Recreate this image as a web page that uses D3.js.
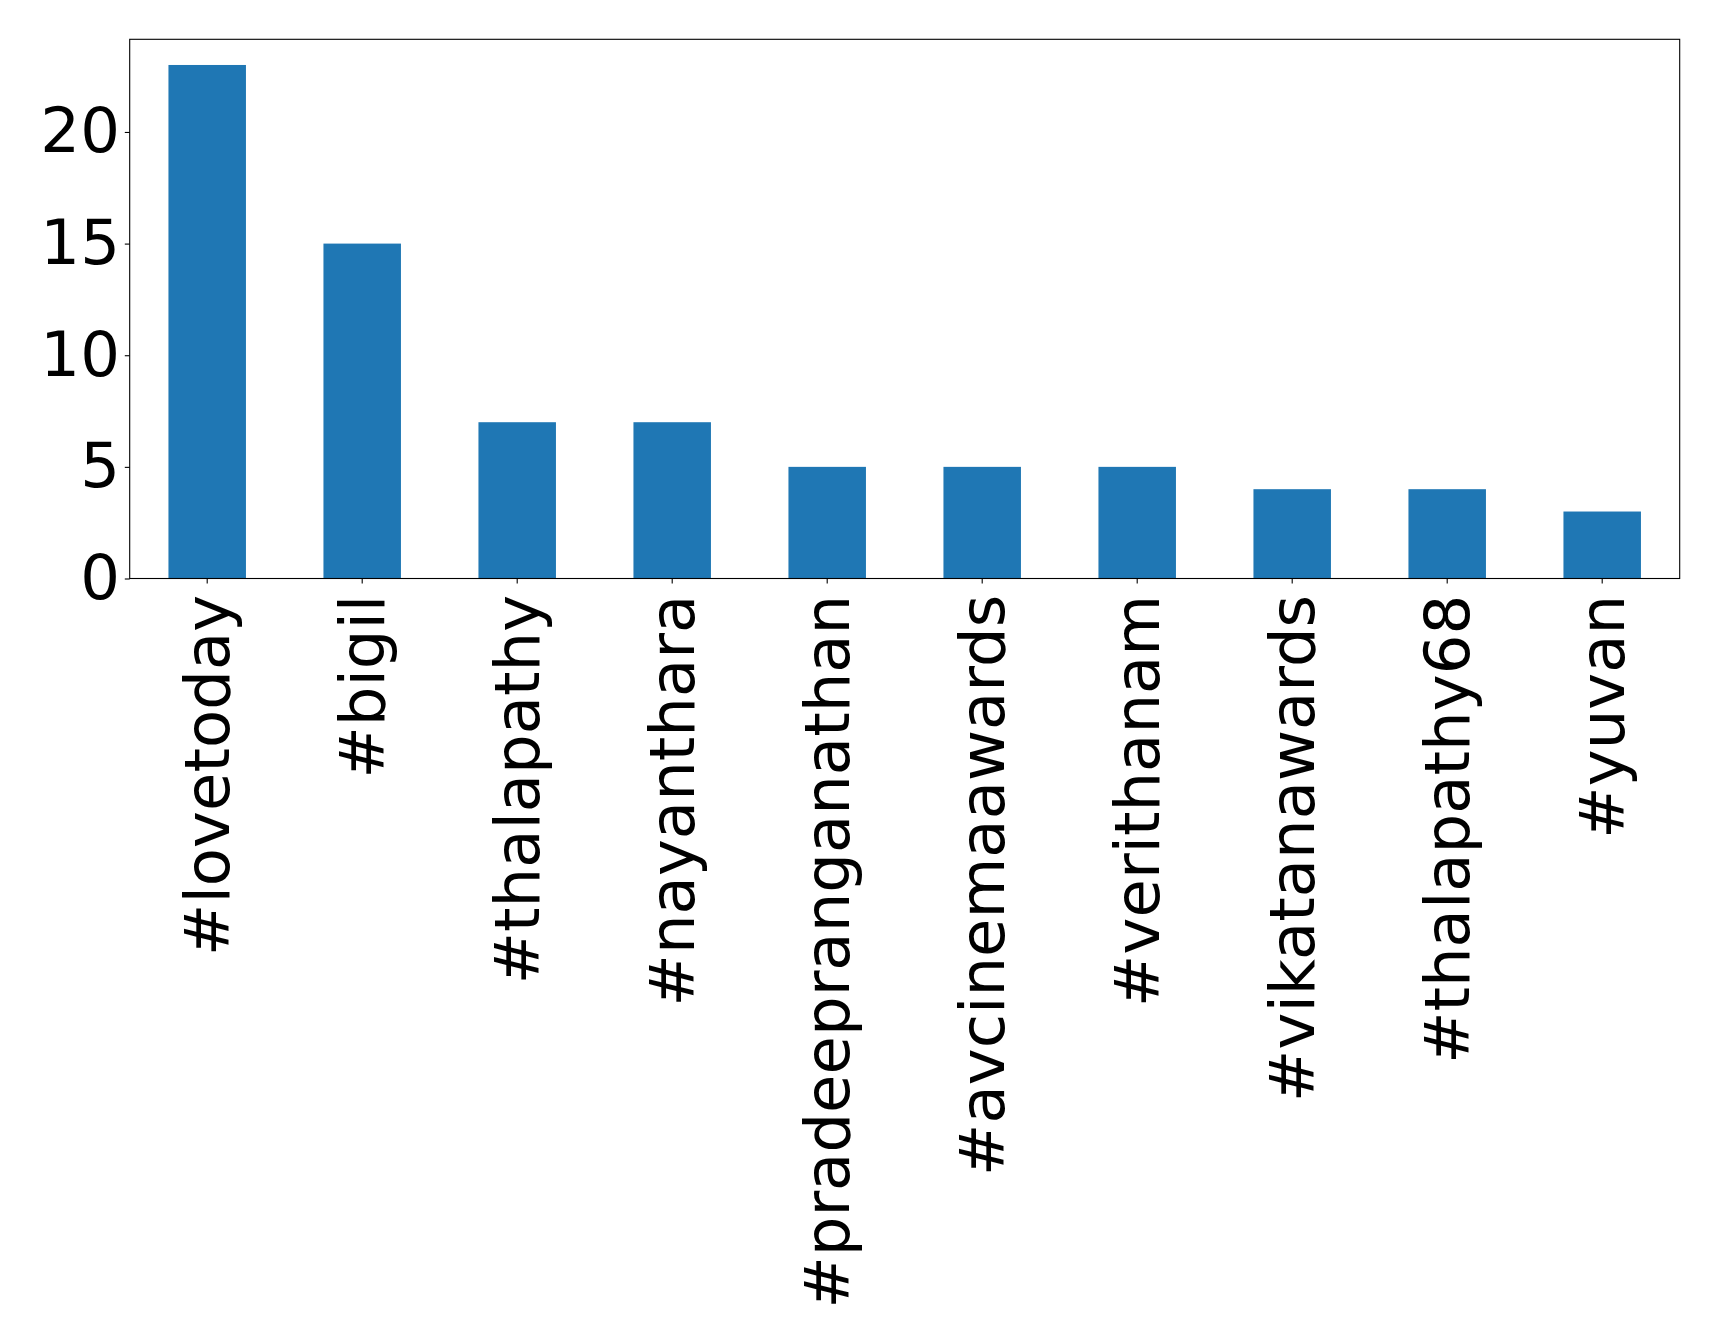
<!DOCTYPE html>
<html><head><meta charset="utf-8">
<script src="https://cdn.jsdelivr.net/npm/d3@7"></script>
<style>body{margin:0;background:#fff}svg{display:block}</style>
</head><body>
<script>
const categories = ["#lovetoday","#bigil","#thalapathy","#nayanthara","#pradeepranganathan","#avcinemaawards","#verithanam","#vikatanawards","#thalapathy68","#yuvan"];
const counts = [23,15,7,7,5,5,5,4,4,3];
const yTicks = [0,5,10,15,20];

(function () {
const W = 1719, H = 1341;
const mLeft = 129.7, mRight = 1679.7, mTop = 39.3, mBottom = 578.5;
const fs = 62.5, tickLen = 4.9, pad = 4.9;

const svg = d3.select("body").append("svg").attr("width", W).attr("height", H);

const x = d3.scaleBand().domain(categories).range([mLeft, mRight]).paddingInner(0.5).paddingOuter(0.25);
const y = d3.scaleLinear().domain([0, d3.max(counts) * 1.05]).range([mBottom, mTop]);

svg.append("g").selectAll("rect").data(categories).join("rect")
  .attr("x", d => x(d)).attr("width", x.bandwidth())
  .attr("y", (d, i) => y(counts[i])).attr("height", (d, i) => y(0) - y(counts[i]))
  .attr("fill", "#1f77b4");

const yAxis = svg.append("g").attr("transform", `translate(${mLeft},0)`)
  .call(d3.axisLeft(y).tickValues(yTicks).tickSize(tickLen).tickPadding(pad).tickFormat(d3.format("d")));
yAxis.select(".domain").remove();
yAxis.selectAll("line").attr("stroke", "#000").attr("stroke-width", 1.1);
yAxis.selectAll("text").attr("font-family", "DejaVu Sans").attr("font-size", fs).attr("fill", "#000");

const xAxis = svg.append("g").attr("transform", `translate(0,${mBottom})`)
  .call(d3.axisBottom(x).tickSize(tickLen).tickPadding(pad));
xAxis.select(".domain").remove();
xAxis.selectAll("line").attr("stroke", "#000").attr("stroke-width", 1.1);
xAxis.selectAll("text")
  .attr("font-family", "DejaVu Sans").attr("font-size", fs).attr("fill", "#000")
  .attr("text-anchor", "end").attr("dy", null).attr("y", null)
  .attr("dominant-baseline", "central")
  .attr("transform", `translate(0,${tickLen + pad + 6.5}) rotate(-90)`);

svg.append("rect").attr("x", mLeft).attr("y", mTop).attr("width", mRight - mLeft).attr("height", mBottom - mTop)
  .attr("fill", "none").attr("stroke", "#000").attr("stroke-width", 1.1);
})();
</script>
</body></html>
